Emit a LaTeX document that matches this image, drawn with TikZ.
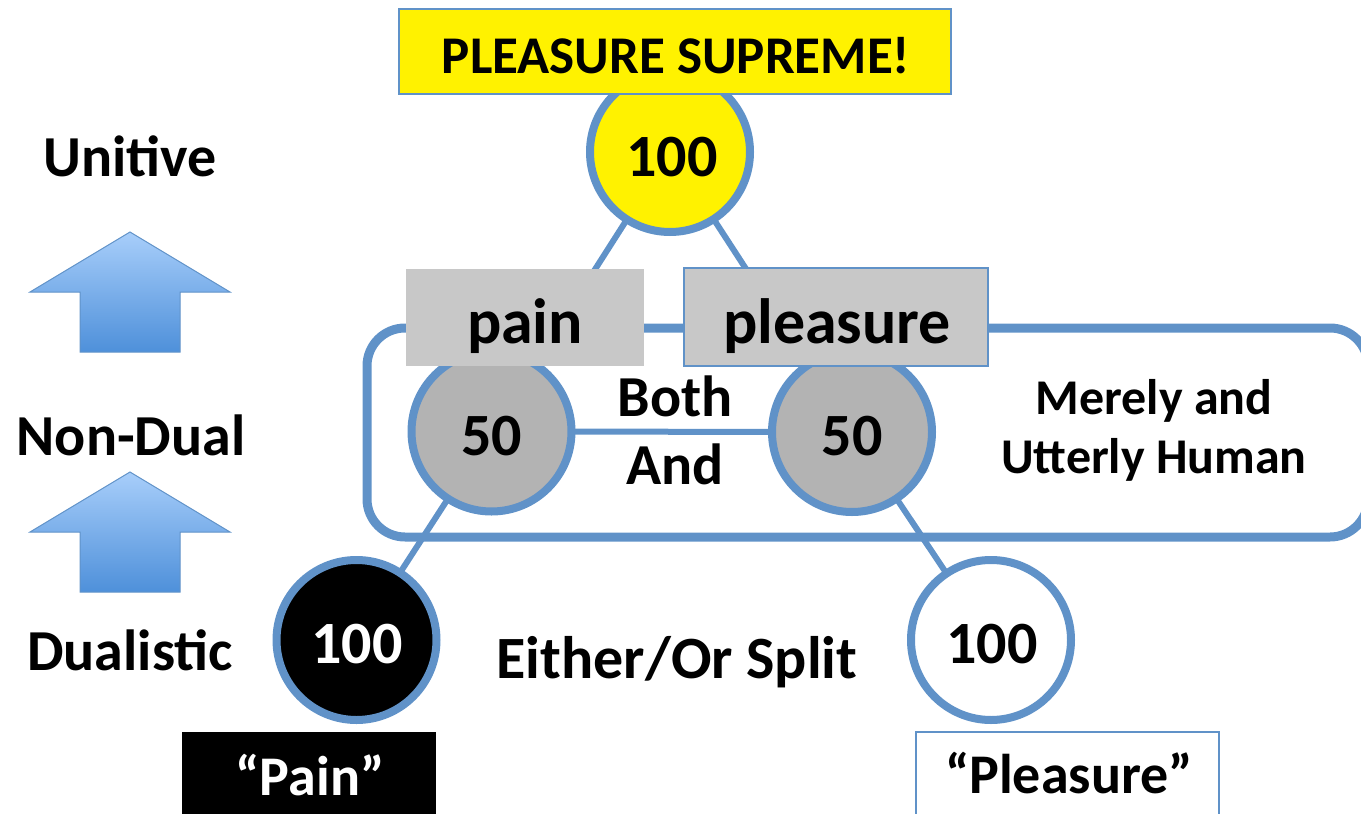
\documentclass[tikz,border=0pt]{standalone}
\usepackage{fontspec}
\setmainfont{Carlito}
\usetikzlibrary{backgrounds}
\definecolor{edgeblue}{RGB}{96,146,200}
\definecolor{circgray}{RGB}{179,179,179}
\definecolor{boxgray}{RGB}{200,200,200}
\definecolor{arrtop}{RGB}{168,206,250}
\definecolor{arrbot}{RGB}{78,144,218}
\begin{document}
\begin{tikzpicture}[x=1pt,y=-1pt,
  numcircle/.style={circle,draw=edgeblue,line width=8pt,minimum size=160pt,inner sep=0pt},
  numtext/.style={anchor=base,inner sep=0pt,font=\fontsize{60}{60}\selectfont\bfseries},
  link/.style={draw=edgeblue,line width=6pt},
  lbl/.style={anchor=base,inner sep=0pt,font=\fontsize{58}{58}\selectfont\bfseries},
  boxtext/.style={anchor=base,inner sep=0pt,font=\fontsize{64}{64}\selectfont\bfseries},
  labelbox/.style={rectangle,inner sep=0pt},
  uparrow/.style={draw=edgeblue,line width=1pt,top color=arrtop,bottom color=arrbot}
]
\useasboundingbox (0,0) rectangle (1361,814);

% level labels
\node[lbl] (unitive) at (130,176) {Unitive};
\node[lbl] (nondual) at (131,455) {Non-Dual};
\node[lbl] (dualistic) at (130,670) {Dualistic};

% up arrows
\path[uparrow] (130,232) -- (230,292) -- (180,292) -- (180,352) -- (80,352) -- (80,292) -- (30,292) -- cycle;
\path[uparrow] (130,472) -- (230,532) -- (180,532) -- (180,592) -- (80,592) -- (80,532) -- (30,532) -- cycle;

% circles
\node[numcircle,fill=yellow] (top) at (670,152) {};
\node[numcircle,fill=circgray] (gl) at (491.5,431.5) {};
\node[numcircle,fill=circgray] (gr) at (852,432) {};
\node[numcircle,fill=black] (bl) at (356.5,640) {};
\node[numcircle,fill=white] (wr) at (991,640) {};

% connectors and frame on background
\begin{scope}[on background layer]
  \draw[draw=edgeblue,line width=9pt,rounded corners=38pt] (367,328) rectangle (1368,537);
  \draw[link] (top.center) -- (gl.center);
  \draw[link] (top.center) -- (gr.center);
  \draw[link] (gl.center) -- (gr.center);
  \draw[link] (gl.center) -- (bl.center);
  \draw[link] (gr.center) -- (wr.center);
\end{scope}

% boxes
\node[labelbox,fill=yellow,draw=edgeblue,line width=1.5pt,minimum width=552pt,minimum height=85pt] (supreme) at (675,51.5) {};
\node[labelbox,fill=boxgray,minimum width=238pt,minimum height=97pt] (painbox) at (525,317.5) {};
\node[labelbox,fill=boxgray,draw=edgeblue,line width=1.5pt,minimum width=304pt,minimum height=98pt] (pleasbox) at (836,317) {};
\node[labelbox,fill=black,minimum width=254pt,minimum height=92pt] (painq) at (309,778) {};
\node[labelbox,fill=white,draw=edgeblue,line width=1.5pt,minimum width=303pt,minimum height=92pt] (pleasq) at (1067.5,778) {};

% texts
\node[anchor=base,inner sep=0pt,font=\fontsize{53}{53}\selectfont\bfseries] (supt) at (676,73) {PLEASURE SUPREME!};
\node[numtext] (topt) at (672,176) {100};
\node[numtext] (glt) at (491.5,455) {50};
\node[numtext] (grt) at (852,455) {50};
\node[numtext,text=white] (blt) at (357,663) {100};
\node[numtext] (wrt) at (992,663) {100};
\node[boxtext] (paint) at (525,343) {pain};
\node[boxtext] (pleast) at (837,343) {pleasure};
\node[lbl] (both) at (675,416) {Both};
\node[lbl] (and) at (675,484) {And};
\node[anchor=base,inner sep=0pt,font=\fontsize{50}{50}\selectfont\bfseries] (merely) at (1154,414) {Merely and};
\node[anchor=base,inner sep=0pt,font=\fontsize{50}{50}\selectfont\bfseries] (utterly) at (1154,473) {Utterly Human};
\node[anchor=base,inner sep=0pt,font=\fontsize{60}{60}\selectfont\bfseries] (either) at (677,678) {Either/Or Split};
\node[anchor=base,inner sep=0pt,font=\fontsize{56}{56}\selectfont\bfseries,text=white] (painqt) at (310,795) {“Pain”};
\node[anchor=base,inner sep=0pt,font=\fontsize{56}{56}\selectfont\bfseries] (pleasqt) at (1069,793) {“Pleasure”};
\end{tikzpicture}
\end{document}
